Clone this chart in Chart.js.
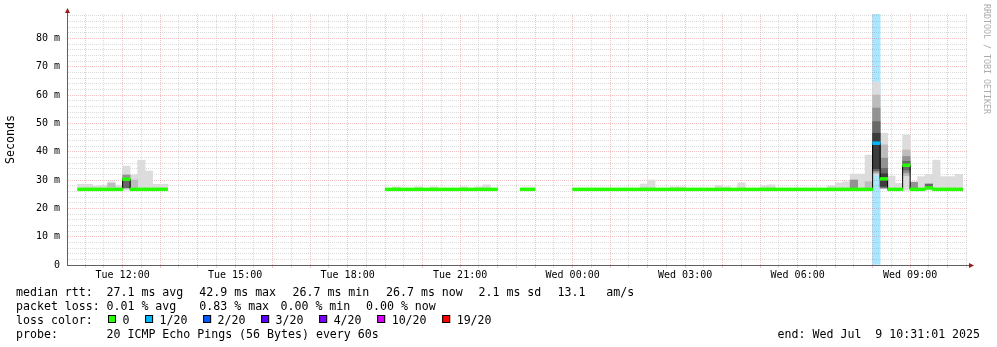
<!DOCTYPE html>
<html>
<head>
<meta charset="utf-8">
<script src="https://cdn.jsdelivr.net/npm/chart.js@4.4.1/dist/chart.umd.min.js"></script>
<style>
  html, body { margin: 0; padding: 0; background: #fff; }
  #wrap { width: 997px; height: 347px; }
</style>
</head>
<body>
<div id="wrap"><canvas id="smoke" width="997" height="347"></canvas></div>
<script>
// time is in minutes after Tue 00:00, data comes in 12 minute bins
const viewStart = 631;   // Tue 10:31
const viewEnd = 2071;    // Wed 10:31
const binMinutes = 12;
const yMax = 88.6;       // ms

// median rtt (ms), one list per run of data
const segStart = [648, 1140, 1356, 1440];
const segMedian = [
    [26.7, 26.7, 26.7, 26.7, 26.7, 26.7, 30.3, 26.7, 26.7, 26.7, 26.7, 26.7],
    [26.7, 26.7, 26.7, 26.7, 26.7, 26.7, 26.7, 26.7, 26.7, 26.7, 26.7, 26.7, 26.7, 26.7, 26.7],
    [26.7, 26.7],
    [26.7, 26.7, 26.7, 26.7, 26.7, 26.7, 26.7, 26.7, 26.7, 26.7,
     26.7, 26.7, 26.7, 26.7, 26.7, 26.7, 26.7, 26.7, 26.7, 26.7,
     26.7, 26.7, 26.7, 26.7, 26.7, 26.7, 26.7, 26.7, 26.7, 26.7,
     26.7, 26.7, 26.7, 26.7, 26.7, 26.7, 26.7, 26.7, 26.7, 26.7,
     43.0, 30.4, 26.7, 26.7, 35.2, 26.7, 26.7, 27.2, 26.7, 26.7, 26.7, 26.7],
];

// smoke bands: bin start, low, high (ms), shade level (0 light .. 4 dark)
const bandTime = [648, 660, 672, 684, 696, 696, 708, 720, 720, 720, 732, 732, 744, 756, 768, 780,
    1152, 1188, 1212, 1260, 1284, 1296,
    1548, 1560, 1596, 1608, 1668, 1680, 1704, 1740, 1752, 1848, 1860, 1872, 1884, 1884, 1896, 1908, 1908,
    1920, 1920, 1920, 1920, 1920, 1932, 1932, 1932, 1932, 1932, 1944, 1956, 1968, 1968, 1968, 1968,
    1980, 1980, 1992, 2004, 2004, 2016, 2028, 2040, 2052];
const bandLo = [26.5, 26.5, 26.5, 26.5, 26.5, 27.6, 26.5, 26.6, 29.8, 27.2, 26.5, 27.0, 26.5, 26.5, 26.5, 26.5,
    26.5, 26.5, 26.5, 26.5, 26.5, 26.5,
    26.5, 26.5, 26.5, 26.5, 26.5, 26.5, 26.5, 26.5, 26.5, 26.5, 26.5, 26.5, 26.5, 27.0, 26.5, 26.5, 26.8,
    31.8, 32.3, 32.8, 33.3, 34.0, 26.9, 27.0, 27.2, 27.4, 27.8, 26.5, 26.5, 26.5, 31.5, 32.5, 33.5,
    26.5, 27.0, 26.5, 26.5, 27.6, 26.5, 26.5, 26.5, 26.5];
const bandHi = [28.5, 28.5, 27.9, 28.2, 29.4, 28.8, 28.2, 34.9, 31.8, 30.0, 31.8, 30.0, 37.0, 33.2, 28.5, 28.5,
    27.6, 27.6, 27.6, 27.6, 27.6, 28.3,
    28.6, 30.0, 27.6, 27.6, 28.1, 27.6, 29.0, 28.0, 28.3, 28.0, 29.0, 29.4, 32.1, 30.0, 32.1, 38.8, 29.4,
    64.6, 60.0, 55.4, 50.6, 46.5, 46.5, 42.4, 37.7, 34.1, 32.2, 31.4, 28.8, 45.9, 40.6, 38.3, 36.6,
    29.4, 29.2, 31.2, 32.0, 28.6, 37.0, 31.2, 31.2, 32.0];
const bandShade = [0, 0, 0, 0, 0, 1, 0, 0, 2, 3, 0, 1, 0, 0, 0, 0,
    0, 0, 0, 0, 0, 0,
    0, 0, 0, 0, 0, 0, 0, 0, 0, 0, 0, 0, 0, 2, 0, 0, 1,
    0, 1, 2, 3, 4, 0, 1, 2, 3, 4, 0, 0, 0, 1, 2, 3,
    0, 2, 0, 0, 3, 0, 0, 0, 0];
const shadeColors = ['#dcdcdc', '#bcbcbc', '#929292', '#686868', '#3c3c3c'];

// bins with packet loss
const lossTime = [1920];
const lossLevel = [1];
const lossLabels = ['0', '1/20', '2/20', '3/20', '4/20', '10/20', '19/20'];
const lossColors = ['#26ff00', '#00b8ff', '#0059ff', '#5e00ff', '#7e00ff', '#dd00ff', '#ff0000'];

const xTickTimes = [720, 900, 1080, 1260, 1440, 1620, 1800, 1980];
const xTickLabels = ['Tue 12:00', 'Tue 15:00', 'Tue 18:00', 'Tue 21:00', 'Wed 00:00', 'Wed 03:00', 'Wed 06:00', 'Wed 09:00'];
const yTickLabels = ['0', '10 m', '20 m', '30 m', '40 m', '50 m', '60 m', '70 m', '80 m'];

const rttItems = ['27.1 ms avg', '42.9 ms max', '26.7 ms min', '26.7 ms now', '2.1 ms sd', '13.1   am/s'];
const lossItems = ['0.01 % avg', '0.83 % max', '0.00 % min', '0.00 % now'];
const probeText = '20 ICMP Echo Pings (56 Bytes) every 60s';
const endText = 'end: Wed Jul  9 10:31:01 2025';

const mono = '"DejaVu Sans Mono", monospace';
const majorGrid = 'rgba(228, 120, 120, 0.45)';
const minorGrid = 'rgba(170, 170, 170, 0.42)';

// build the points
const medianPts = [];
const medianBand = [];
const medianColors = [];
segStart.forEach((start, s) => {
    segMedian[s].forEach((m, j) => {
        const t = start + j * binMinutes;
        const k = lossTime.indexOf(t);
        medianPts.push({x: t + binMinutes / 2, y: m});
        medianBand.push({x: t + binMinutes / 2, y: [m - 0.5, m + 0.5]});
        medianColors.push(lossColors[k < 0 ? 0 : lossLevel[k]]);
    });
    // break the line between runs
    medianPts.push({x: start + segMedian[s].length * binMinutes, y: null});
});

// grid every half hour / every 2 ms
const xGridTicks = [];
for (let t = 660; t < viewEnd; t += 30) xGridTicks.push(t);
const yGridTicks = [];
for (let v = 0; v <= 88; v += 2) yGridTicks.push(v);

const barBase = {type: 'bar', grouped: false, barPercentage: 1, categoryPercentage: 1, borderWidth: 0};

const datasets = [
    {...barBase, data: medianBand, backgroundColor: medianColors, order: 0},
    {type: 'line', data: medianPts, borderColor: '#000', borderWidth: 1, stepped: 'middle',
        pointRadius: 0, spanGaps: false, order: 1},
];
shadeColors.forEach((color, level) => {
    datasets.push({
        ...barBase,
        data: bandTime.map((t, i) => ({x: t + binMinutes / 2, y: [bandLo[i], bandHi[i]]}))
            .filter((p, i) => bandShade[i] === level),
        backgroundColor: color,
        order: 6 - level,
    });
});
datasets.push({
    ...barBase,
    data: lossTime.map(t => ({x: t + binMinutes / 2, y: [0, yMax]})),
    backgroundColor: lossTime.map((t, i) => lossColors[lossLevel[i]] + '55'),
    order: 7,
});

const decor = {
    id: 'decor',
    afterDraw(chart) {
        const {ctx, chartArea: a} = chart;
        ctx.save();
        // axis arrows
        ctx.strokeStyle = '#606060';
        ctx.lineWidth = 1;
        ctx.beginPath();
        ctx.moveTo(a.left + 0.5, a.top);
        ctx.lineTo(a.left + 0.5, a.top - 2);
        ctx.moveTo(a.right, a.bottom + 0.5);
        ctx.lineTo(a.right + 3, a.bottom + 0.5);
        ctx.stroke();
        ctx.fillStyle = '#9c1a1a';
        ctx.beginPath();
        ctx.moveTo(a.left - 2, a.top - 1);
        ctx.lineTo(a.left + 3, a.top - 1);
        ctx.lineTo(a.left + 0.5, a.top - 6);
        ctx.closePath();
        ctx.fill();
        ctx.beginPath();
        ctx.moveTo(a.right + 2, a.bottom - 2);
        ctx.lineTo(a.right + 2, a.bottom + 3);
        ctx.lineTo(a.right + 7, a.bottom + 0.5);
        ctx.closePath();
        ctx.fill();

        // watermark
        ctx.save();
        ctx.translate(986, 4);
        ctx.rotate(Math.PI / 2);
        ctx.font = '8.3px ' + mono;
        ctx.fillStyle = '#ababab';
        ctx.textBaseline = 'middle';
        ctx.fillText('RRDTOOL / TOBI OETIKER', 0, 0);
        ctx.restore();

        // legend block
        ctx.font = '11.6px ' + mono;
        ctx.fillStyle = '#000';
        ctx.textBaseline = 'alphabetic';
        ctx.fillText('median rtt:', 16, 295.5);
        [106.5, 199.3, 292.5, 386, 478.5, 557.5].forEach((x, i) => ctx.fillText(rttItems[i], x, 295.5));
        ctx.fillText('packet loss:', 16, 309.5);
        [106.5, 199.3, 280.5, 366].forEach((x, i) => ctx.fillText(lossItems[i], x, 309.5));
        ctx.fillText('loss color:', 16, 323.5);
        let x = 108;
        lossLabels.forEach((label, i) => {
            ctx.fillStyle = lossColors[i];
            ctx.fillRect(x, 315, 8, 8);
            ctx.strokeStyle = '#000';
            ctx.strokeRect(x + 0.5, 315.5, 7, 7);
            ctx.fillStyle = '#000';
            ctx.fillText(label, x + 14.5, 323.5);
            x += 14.5 + ctx.measureText(label).width + 15.6;
        });
        ctx.fillText('probe:', 16, 337.5);
        ctx.fillText(probeText, 106.5, 337.5);
        ctx.fillText(endText, 777.6, 337.5);
        ctx.restore();
    }
};

Chart.defaults.font.family = mono;
Chart.defaults.color = '#000';

new Chart(document.getElementById('smoke').getContext('2d'), {
    type: 'bar',
    data: {datasets},
    options: {
        responsive: false,
        animation: false,
        devicePixelRatio: 1,
        layout: {padding: {top: 14, right: 30, bottom: 0, left: 0}},
        plugins: {legend: {display: false}, tooltip: {enabled: false}},
        scales: {
            x: {
                type: 'linear',
                min: viewStart,
                max: viewEnd,
                offset: false,
                afterBuildTicks: s => { s.ticks = xGridTicks.map(v => ({value: v})); },
                afterFit: s => { s.height = 82; },
                grid: {
                    offset: false,
                    color: c => (c.tick && c.tick.value % 60 === 0) ? majorGrid : minorGrid,
                    tickLength: 3,
                },
                border: {color: '#606060', dash: [1, 1], z: 1},
                ticks: {
                    autoSkip: false,
                    maxRotation: 0,
                    minRotation: 0,
                    padding: 1,
                    font: {size: 10},
                    callback: v => {
                        const k = xTickTimes.indexOf(v);
                        return k < 0 ? '' : xTickLabels[k];
                    },
                },
            },
            y: {
                min: 0,
                max: yMax,
                afterBuildTicks: s => { s.ticks = yGridTicks.map(v => ({value: v})); },
                afterFit: s => { s.width = 67; },
                grid: {
                    color: c => (c.tick && c.tick.value % 10 === 0) ? majorGrid : minorGrid,
                    drawTicks: false,
                },
                border: {color: '#606060', dash: [1, 1], z: 1},
                ticks: {
                    autoSkip: false,
                    padding: 7,
                    font: {size: 10},
                    callback: v => v % 10 === 0 ? yTickLabels[v / 10] : '',
                },
                title: {
                    display: true,
                    text: 'Seconds',
                    font: {size: 11.6},
                    padding: {top: 4, bottom: 0},
                },
            },
        },
    },
    plugins: [decor],
});
</script>
</body>
</html>
